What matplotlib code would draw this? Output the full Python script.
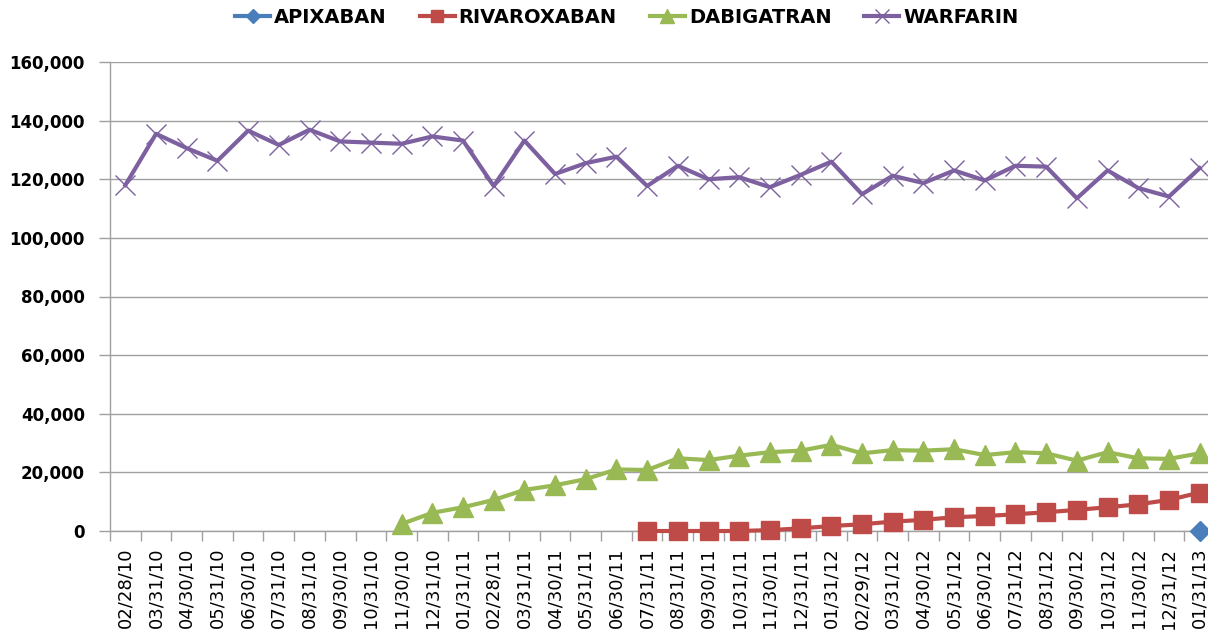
import numpy as np
import matplotlib
matplotlib.use("Agg")
import matplotlib.pyplot as plt

nan = np.nan

#month-end dates on the category axis
dates = ["02/28/10", "03/31/10", "04/30/10", "05/31/10", "06/30/10", "07/31/10",
         "08/31/10", "09/30/10", "10/31/10", "11/30/10", "12/31/10", "01/31/11",
         "02/28/11", "03/31/11", "04/30/11", "05/31/11", "06/30/11", "07/31/11",
         "08/31/11", "09/30/11", "10/31/11", "11/30/11", "12/31/11", "01/31/12",
         "02/29/12", "03/31/12", "04/30/12", "05/31/12", "06/30/12", "07/31/12",
         "08/31/12", "09/30/12", "10/31/12", "11/30/12", "12/31/12", "01/31/13"]

#values (nan = no data that month)
apixaban = [nan] * 35 + [0]

rivaroxaban = [nan] * 17 + [0, 0, 0, 0, 300, 900, 1700, 2300, 3200, 3800, 4700,
                            5100, 5700, 6400, 7200, 8100, 9100, 10600, 13100]

dabigatran = [nan] * 9 + [2400, 6200, 8100, 10600, 14000, 15600, 17700, 21000,
                          20800, 24800, 24200, 25700, 26900, 27400, 29400, 26500,
                          27600, 27400, 27900, 25900, 26900, 26500, 24000, 26900,
                          24800, 24600, 26500]

warfarin = [118000, 135500, 130600, 126300, 136600, 131700, 136900, 132900,
            132500, 132100, 134600, 133200, 117700, 133200, 121800, 125500,
            127700, 117700, 124600, 120000, 120700, 117300, 121500, 126000,
            114900, 121200, 118700, 123000, 119600, 124600, 124300, 113500,
            123000, 117000, 114100, 123800]

x = np.arange(len(dates))

fig = plt.figure(figsize=(12.08, 6.35), dpi=100)
ax = fig.add_axes([110 / 1208, 104 / 635, 1105 / 1208, 469 / 635])

#series styling, Excel 2007 defaults
ax.plot(x, apixaban, color="#4A7EBB", lw=3, marker="D", ms=10,
        label="APIXABAN", clip_on=False, zorder=3)
ax.plot(x, rivaroxaban, color="#BE4B48", lw=3, marker="s", ms=13,
        label="RIVAROXABAN", clip_on=False, zorder=3)
ax.plot(x, dabigatran, color="#98B954", lw=3, marker="^", ms=14,
        label="DABIGATRAN", clip_on=False, zorder=3)
ax.plot(x, warfarin, color="#7D60A0", lw=3, marker="x", ms=15, mew=1.0,
        label="WARFARIN", clip_on=False, zorder=3)

ax.set_xlim(-0.5, len(dates) - 0.5)
ax.set_ylim(0, 160000)
ax.set_yticks(np.arange(0, 160001, 20000))
ax.set_yticklabels([f"{v:,}" for v in range(0, 160001, 20000)],
                   fontsize=12, fontweight="bold", family="DejaVu Sans")
ax.yaxis.grid(True, color="#A0A0A0", lw=1)
ax.set_axisbelow(True)

#labels centred on categories, tick marks between categories
ax.set_xticks(x)
ax.set_xticklabels(dates, rotation=90, fontsize=13, family="DejaVu Sans")
ax.set_xticks(np.arange(-0.5, len(dates)), minor=True)
ax.tick_params(axis="x", which="major", length=0, pad=12)
ax.tick_params(axis="x", which="minor", length=7, color="#A0A0A0", width=1)
ax.tick_params(axis="y", length=8, color="#A0A0A0", width=1, pad=10)

for side in ["top", "right"]:
    ax.spines[side].set_visible(False)
for side in ["left", "bottom"]:
    ax.spines[side].set_color("#A0A0A0")
    ax.spines[side].set_linewidth(1)

fig.legend(loc="center", bbox_to_anchor=(0.519, 0.972), ncol=4, frameon=False,
           prop={"family": "DejaVu Sans", "weight": "bold", "size": 14},
           handlelength=1.8, handletextpad=0.2, columnspacing=1.7,
           markerscale=0.7)

fig.savefig("out.png", dpi=100)
